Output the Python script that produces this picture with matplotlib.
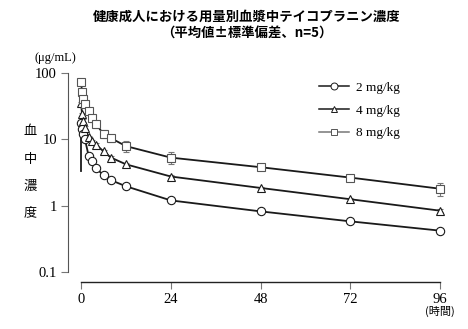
import matplotlib
matplotlib.use("Agg")
import matplotlib.pyplot as plt
from matplotlib.lines import Line2D
from matplotlib.ticker import NullLocator, FixedLocator

# ---- data ----
times = [0, 0.25, 0.5, 1, 2, 3, 4, 6, 8, 12, 24, 48, 72, 96]
conc_2 = [17.5, 14.5, 11.9, 10.2, 5.7, 4.7, 3.7, 2.85, 2.42, 1.96, 1.2, 0.82, 0.58, 0.42]
sd_2 = [0.8, 0.7, 0.6, 0.5, 0.3, 0.25, 0.2, 0.15, 0.12, 0.1, 0.06, 0.04, 0.03, 0.02]
conc_4 = [35, 24, 19, 15, 10.8, 9.4, 8.3, 6.6, 5.3, 4.2, 2.75, 1.85, 1.25, 0.84]
sd_4 = [1.5, 1.2, 1.0, 0.8, 0.6, 0.5, 0.4, 0.3, 0.25, 0.2, 0.12, 0.08, 0.06, 0.04]
conc_8 = [74, 51, 41, 34, 27, 21, 17, 12, 10.4, 7.9, 5.3, 3.8, 2.65, 1.8]
sd_8 = [3, 3, 3, 3, 3.0, 2.5, 2.0, 1.6, 1.4, 1.5, 1.1, 0.3, 0.2, 0.4]
labels = ["2 mg/kg", "4 mg/kg", "8 mg/kg"]
xticks = [0, 24, 48, 72, 96]
yticks = [0.1, 1, 10, 100]
ytick_labels = ["0.1", "1", "10", "100"]
vline_t = [0, 0]
vline_c = [3.3, 17.5]

W, H = 468, 329
serif = "Liberation Serif"
cjk = ["Noto Sans CJK JP", "DejaVu Sans"]

fig = plt.figure(figsize=(W / 100, H / 100), dpi=100)
ax = fig.add_axes([68 / W, (H - 272) / H, 379.6 / W, 199 / H])
ax.set_yscale("log")
ax.set_ylim(0.1, 100)
ax.set_xlim(-3.5, 98)

line_c = "#1a1a1a"
series = [
    (conc_2, sd_2, "o", line_c, line_c),
    (conc_4, sd_4, "^", line_c, line_c),
    (conc_8, sd_8, "s", line_c, "#555555"),
]
for conc, sd, mk, lc, ec in series:
    ax.errorbar(times, conc, yerr=sd, fmt="none", ecolor="#777777",
                elinewidth=0.8, capsize=2.5, capthick=0.8, zorder=2)
    ax.plot(times, conc, color=lc, lw=1.3, zorder=3)
    ax.plot(times, conc, linestyle="none", marker=mk, markersize=6.0,
            markerfacecolor="white", markeredgecolor=ec,
            markeredgewidth=0.8, zorder=4)

ax.plot(vline_t, vline_c, color=line_c, lw=1.3, zorder=3)

for s in ["top", "right"]:
    ax.spines[s].set_visible(False)
ax.spines["left"].set_color("#555555")
ax.spines["bottom"].set_color("#222222")
ax.spines["left"].set_linewidth(0.8)
ax.spines["bottom"].set_linewidth(1.0)
ax.spines["bottom"].set_position(("outward", 7))
ax.spines["bottom"].set_bounds(0, 96)

ax.yaxis.set_major_locator(FixedLocator(yticks))
ax.yaxis.set_minor_locator(NullLocator())
ax.set_yticklabels(ytick_labels)
ax.set_xticks(xticks)
ax.set_xticklabels([str(t) for t in xticks])
ax.tick_params(axis="both", direction="out", length=5, width=0.8,
               color="#777777", labelsize=10.5, pad=3)
for lab in ax.get_xticklabels() + ax.get_yticklabels():
    lab.set_fontfamily(serif)

# legend
handles = [
    Line2D([], [], color=line_c, lw=1.1, marker="o", markersize=5,
           markerfacecolor="white", markeredgecolor=line_c, markeredgewidth=0.7),
    Line2D([], [], color=line_c, lw=1.1, marker="^", markersize=5,
           markerfacecolor="white", markeredgecolor=line_c, markeredgewidth=0.7),
    Line2D([], [], color="#777777", lw=1.1, marker="s", markersize=5,
           markerfacecolor="white", markeredgecolor="#555555", markeredgewidth=0.7),
]
leg = fig.legend(handles, labels, loc="upper left",
                 bbox_to_anchor=(308 / W, 1 - 71 / H), frameon=False,
                 handlelength=2.3, handletextpad=0.5, labelspacing=0.8,
                 borderpad=0.3,
                 prop={"family": serif, "size": 9.5})

# texts
fig.text(247 / W, 1 - 17 / H, "健康成人における用量別血漿中テイコプラニン濃度",
         ha="center", va="center", fontsize=9.6, fontweight="bold", family=cjk)
fig.text(247 / W, 1 - 33 / H, "（平均値±標準偏差、n=5）",
         ha="center", va="center", fontsize=9.6, fontweight="bold", family=cjk)
fig.text(55 / W, 1 - 58 / H, "(μg/mL)", ha="center", va="center",
         fontsize=9, family=[serif, "DejaVu Sans"])
for ch, yy in zip("血中濃度", [132, 159, 186, 213]):
    fig.text(30 / W, 1 - yy / H, ch, ha="center", va="center",
             fontsize=9.5, family=cjk)
fig.text(440 / W, 1 - 311 / H, "(時間)", ha="center", va="center",
         fontsize=8, family=cjk)

fig.savefig("out.png", dpi=100)
